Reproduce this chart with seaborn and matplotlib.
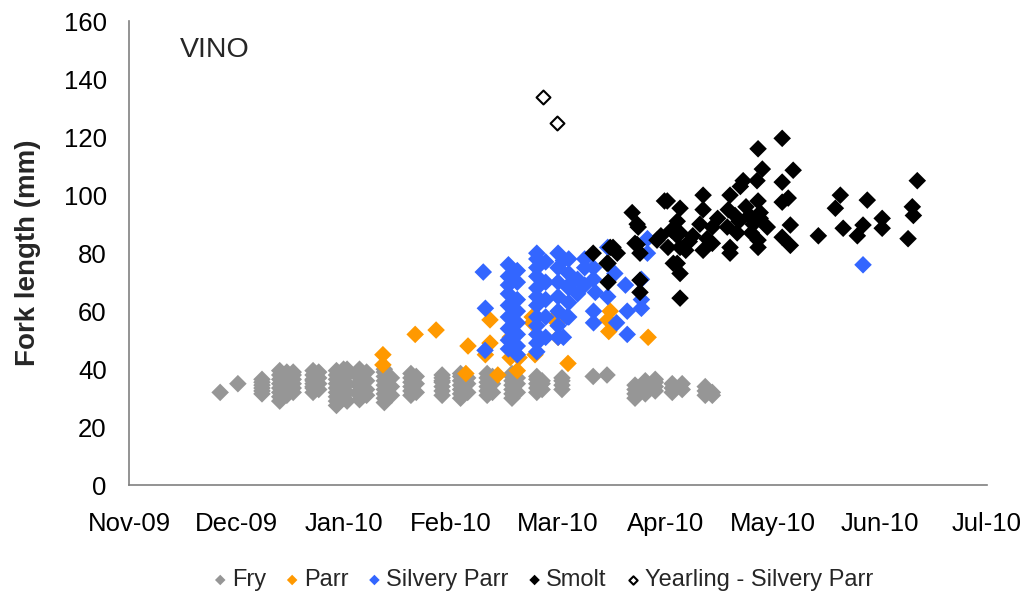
import numpy as np
import pandas as pd
import matplotlib
matplotlib.use("Agg")
import matplotlib.pyplot as plt
import seaborn as sns

# x values are days since 1 Nov 2009 (axis runs Nov-09 .. Jul-10, 242 days).
month_labels = ["Nov-09", "Dec-09", "Jan-10", "Feb-10", "Mar-10",
                "Apr-10", "May-10", "Jun-10", "Jul-10"]
x_max = 242

# Fry: sampling days and the fork lengths measured on each day.
fry_days = [25.7, 30.7, 37.5, 42.5, 44.5, 46.3, 51.9, 53.5, 58.5, 60.5,
            61.5, 65.0, 67.0, 72.0, 74.0, 79.5, 81.0, 88.3, 93.5, 95.5,
            101.0, 102.5, 108.0, 109.5, 115.0, 116.5, 122.1, 130.9, 134.8,
            142.7, 145.6, 148.4, 153.2, 156.0, 162.5, 164.5]
fry_lengths = [
    [32], [35],
    [31.5, 32.5, 33.5, 34.5, 35.5, 36.5],
    [29, 30.5, 32, 33.5, 35, 36.5, 38, 39.5],
    [31, 34, 37, 39],
    [32, 33.5, 35, 36.5, 38, 39],
    [32, 33.5, 35, 36.5, 38, 39.5, 34, 36],
    [33, 35, 37, 39],
    [27.5, 29, 30.5, 32, 33.5, 35, 36.5, 38, 39.5],
    [31, 34, 37, 40],
    [29, 32, 35, 38, 40],
    [29.5, 31, 32.5, 34, 35.5, 37, 38.5, 40],
    [31, 33, 36, 39],
    [28.5, 30, 31.5, 33, 34.5, 36, 37.5, 39, 40],
    [31, 34, 37],
    [31, 32.5, 34, 35.5, 37, 38.5],
    [32, 35, 37.5],
    [31, 32.5, 34, 35.5, 37, 38, 36],
    [30, 31.5, 33, 34.5, 36, 37.5, 38.5],
    [32, 35, 37],
    [31, 32.5, 34, 35.5, 37, 38.5],
    [32, 35, 37.5],
    [30, 31.5, 33, 34.5, 36, 37.5, 38.5],
    [32, 35, 37],
    [32, 33.5, 35, 36.5, 37.5],
    [33, 35, 36],
    [33, 34.5, 36, 37],
    [37.5], [38],
    [30, 31.5, 33, 34.5],
    [31.5, 33, 34.5, 36, 35],
    [32.5, 34, 35.5, 36.5],
    [32, 33.5, 35],
    [33, 35],
    [31, 32.5, 34],
    [31, 32]]

# Parr
parr_x = [71.6, 71.6, 80.7, 86.6, 95.6, 95.0, 101.8, 101.8, 100.5, 107.5,
          107.5, 107.5, 110.0, 113.7, 114.5, 113.7, 120.7, 121.0, 120.7,
          123.8, 135.7, 135.0, 135.3, 146.4, 109.5, 104.0]
parr_y = [45, 41.5, 52, 53.5, 48, 38.5, 57, 49, 45, 54,
          51, 44, 44, 58, 45, 56, 56, 51, 58.5,
          42, 60, 57, 53, 51, 39.5, 38]

# Silvery Parr
silvery_x = [99.9, 100.5, 100.4,
             107, 107, 107, 107, 107, 107, 107, 107, 107,
             109.5, 109.5, 109.5, 109.5, 109.5, 109.5, 109.5, 109.5,
             115, 115, 115, 115, 115, 115, 115, 115, 115, 115, 115, 115,
             117.5, 117.5, 117.5, 117.5, 117.5,
             121, 121, 121, 121, 121, 121, 121,
             124, 124, 124, 124, 124, 124, 126.5, 126.5,
             128.5, 128.5, 131, 131, 128.5, 131.5, 135, 137, 135, 131, 131,
             140, 144.5, 144.5, 144.5, 140.5, 137.5, 140.5, 123.5, 122.5,
             122.5, 146.2, 146.2, 207]
silvery_y = [73.5, 61, 46.5,
             76, 72, 69, 66, 62, 58, 54, 50, 47,
             74, 70, 64, 60, 56, 52, 48, 45,
             80, 78, 75, 72, 68, 65, 62, 58, 55, 52, 49, 46,
             77, 70, 64, 58, 51,
             80, 75, 70, 65, 60, 55, 51,
             78, 73, 68, 63, 58, 69, 71, 66,
             78, 75, 75, 71, 69, 66.5, 82, 73, 65, 60, 56,
             69, 71, 64, 61, 60, 56, 52, 58, 51,
             77.5, 85, 80, 76]

# Smolt
smolt_x = [130.9, 136.5, 135.1, 135.1, 144.1, 144.1, 155.4, 155.4, 154.6,
           141.9, 143.6, 142.7, 144.1, 151.8, 155.4, 154.6, 148.9, 152.0,
           155.4, 155.4, 161.9, 161.9, 164.5, 164.5, 161.9, 169.5, 169.0,
           172.4, 173.2, 170.9, 168.7, 171.5, 169.5, 169.5, 177.4, 178.6,
           177.1, 177.4, 178.0, 176.0, 180.0, 177.4, 177.4, 184.2, 187.3,
           184.2, 185.9, 184.2, 186.5, 184.2, 186.5, 194.4, 200.6, 199.2,
           201.4, 208.2, 207.0, 205.4, 212.4, 212.4, 222.3, 220.9, 221.2,
           219.7, 135.7, 137.7, 134.8, 143.3, 153.5, 154.6, 143.3, 172.0,
           174.0, 175.0, 166.0, 158.0, 159.0, 153.0, 157.0, 150.0, 151.0,
           175.5, 178.0, 161.0, 163.0]
smolt_y = [80, 82, 76.5, 70, 70.7, 66.5, 64.5, 73, 76.5,
           94, 89, 83.4, 80, 98, 95.5, 91, 84.5, 82,
           87, 82, 100, 95, 89, 83.4, 81, 100, 95,
           103, 105, 93, 89, 87, 82, 80, 116, 109,
           105, 98, 94, 90, 89, 84.5, 82, 119.6, 108.6,
           104.5, 99, 97.6, 89.7, 85.5, 82.7, 86, 100, 95.5,
           88.6, 98.3, 89.7, 86, 92, 88.6, 105, 96, 93,
           85, 82, 80, 76.5, 83, 76.5, 86, 90, 91,
           96, 93, 92, 84, 86, 88, 81, 86, 98,
           87, 92, 90, 85]

# Yearling - Silvery Parr
yearling_x = [116.8, 120.7]
yearling_y = [134, 125]

# Flatten the fry table into x/y columns.
fry_x = [d for d, ls in zip(fry_days, fry_lengths) for _ in ls]
fry_y = [v for ls in fry_lengths for v in ls]

sns.set_theme(style="white")
plt.rcParams["font.family"] = ["Liberation Sans", "DejaVu Sans"]

fig = plt.figure(figsize=(10.24, 6.05), dpi=100)
ax = fig.add_axes([0.126, 0.198, 0.838, 0.767])

ms = 80
sns.scatterplot(x=fry_x, y=fry_y, ax=ax, marker="D", s=ms, color="#969696",
                edgecolor="none", label="Fry")
sns.scatterplot(x=parr_x, y=parr_y, ax=ax, marker="D", s=ms, color="#FF9900",
                edgecolor="none", label="Parr")
sns.scatterplot(x=silvery_x, y=silvery_y, ax=ax, marker="D", s=ms,
                color="#3366FF", edgecolor="none", label="Silvery Parr")
sns.scatterplot(x=smolt_x, y=smolt_y, ax=ax, marker="D", s=ms, color="black",
                edgecolor="none", label="Smolt")
sns.scatterplot(x=yearling_x, y=yearling_y, ax=ax, marker="D", s=50,
                facecolor="white", edgecolor="black", linewidth=1.5,
                label="Yearling - Silvery Parr")

# Axes limits and ticks.
ax.set_xlim(0, x_max)
ax.set_ylim(0, 160)
ax.set_xticks(np.linspace(0, x_max, len(month_labels)))
ax.set_xticklabels(month_labels)
ax.set_yticks(range(0, 161, 20))

for side in ["top", "right"]:
    ax.spines[side].set_visible(False)
for side in ["left", "bottom"]:
    ax.spines[side].set_color("#808080")
    ax.spines[side].set_linewidth(1.2)

ax.tick_params(axis="both", which="major", direction="out", length=7,
               width=1.2, color="#808080", labelsize=18.5, labelcolor="black")
ax.tick_params(axis="y", pad=9)
ax.tick_params(axis="x", pad=12)

ax.set_ylabel("Fork length (mm)", fontsize=20, fontweight="bold", labelpad=16)
ax.text(0.059, 0.965, "VINO", transform=ax.transAxes, fontsize=20.5,
        va="top", ha="left")

# Legend below the plot, placed in figure coordinates.
ax.legend(loc="center", bbox_to_anchor=(0.528, 0.041),
          bbox_transform=fig.transFigure, ncol=5, frameon=False,
          fontsize=17, handletextpad=0.0, columnspacing=0.6,
          markerscale=0.6, borderaxespad=0, handlelength=1.0)

fig.savefig("out.png", dpi=100)
